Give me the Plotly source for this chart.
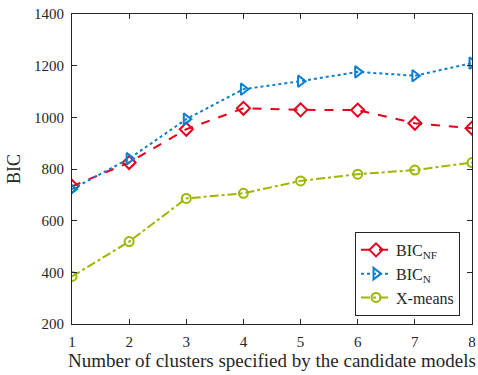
import plotly.graph_objects as go

clusters = [1, 2, 3, 4, 5, 6, 7, 8]
bic_nf = [733, 825, 954, 1035, 1029, 1028, 977, 958]
bic_n = [722, 840, 993, 1109, 1140, 1176, 1161, 1210]
xmeans = [384, 519, 686, 706, 754, 780, 796, 825]

y_ticks = [200, 400, 600, 800, 1000, 1200, 1400]

font_family = "Liberation Serif"
ink = "#262626"

fig = go.Figure()
fig.add_trace(go.Scatter(
    x=clusters, y=bic_nf, name="BIC<sub>NF</sub>", mode="lines+markers",
    line=dict(color="#e5001c", width=2, dash="dash"),
    marker=dict(symbol="diamond-open", size=10, color="#e5001c", line=dict(width=2)),
))
fig.add_trace(go.Scatter(
    x=clusters, y=bic_n, name="BIC<sub>N</sub>", mode="lines+markers",
    line=dict(color="#0a7fd0", width=2, dash="dot"),
    marker=dict(symbol="triangle-right-open", size=10, color="#0a7fd0", line=dict(width=2)),
))
fig.add_trace(go.Scatter(
    x=clusters, y=xmeans, name="X-means", mode="lines+markers",
    line=dict(color="#99b800", width=2, dash="dashdot"),
    marker=dict(symbol="circle-open", size=9, color="#99b800", line=dict(width=2)),
))

axis_common = dict(
    showgrid=False, zeroline=False, showline=True, linecolor=ink, linewidth=1,
    mirror="ticks", ticks="inside", ticklen=5, tickcolor=ink,
    tickfont=dict(family=font_family, size=15, color=ink),
    ticklabeloverflow="allow", ticklabelstandoff=4,
)

fig.update_layout(
    width=478, height=375,
    margin=dict(l=72, r=2, t=14, b=51),
    paper_bgcolor="white", plot_bgcolor="white",
    font=dict(family=font_family, size=15, color=ink),
    xaxis=dict(range=[1, 8], tickvals=clusters,
               title=dict(text="Number of clusters specified by the candidate models",
                          font=dict(size=19), standoff=3),
               **axis_common),
    yaxis=dict(range=[200, 1400], tickvals=y_ticks,
               title=dict(text="BIC", font=dict(size=18), standoff=8),
               **axis_common),
    legend=dict(x=0.97, y=0.026, xanchor="right", yanchor="bottom",
                bordercolor=ink, borderwidth=1, bgcolor="white",
                font=dict(family=font_family, size=16, color=ink),
                tracegroupgap=0, itemwidth=30),
    showlegend=True,
)

fig.write_html("out.html")
